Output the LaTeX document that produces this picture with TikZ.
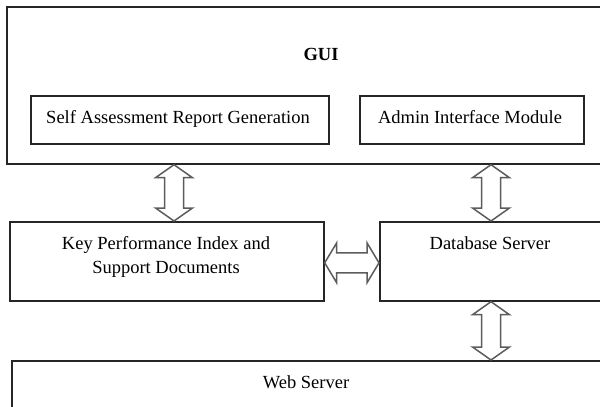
\documentclass[tikz,border=0pt]{standalone}
\usepackage{fontspec}
\setmainfont{Liberation Serif}
\usetikzlibrary{calc}
\definecolor{boxline}{HTML}{262626}
\definecolor{arrowline}{HTML}{5C5C5C}
\tikzset{
  box/.style={draw=boxline, line width=1.7pt, rectangle, inner sep=0pt, anchor=north west},
  txt/.style={font=\fontsize{18.5}{24}\selectfont, inner sep=0pt, anchor=base},
  twoway/.style={draw=arrowline, line width=1.5pt, fill=white, line join=miter},
}
% vertical two-headed block arrow between two points (top, bottom)
\newcommand\vtwoway[2]{%
  \draw[twoway] let \p1=#1, \p2=#2 in
    (\x1,\y1) -- (\x1+18.5pt,\y1-13pt) -- (\x1+9.5pt,\y1-13pt) -- (\x1+9.5pt,\y2+13pt)
    -- (\x1+18.5pt,\y2+13pt) -- (\x1,\y2) -- (\x1-18.5pt,\y2+13pt) -- (\x1-9.5pt,\y2+13pt)
    -- (\x1-9.5pt,\y1-13pt) -- (\x1-18.5pt,\y1-13pt) -- cycle;}
% horizontal two-headed block arrow between two points (left, right)
\newcommand\htwoway[2]{%
  \draw[twoway] let \p1=#1, \p2=#2 in
    (\x1,\y1) -- (\x1+12pt,\y1+20pt) -- (\x1+12pt,\y1+10pt) -- (\x2-12pt,\y1+10pt)
    -- (\x2-12pt,\y1+20pt) -- (\x2,\y1) -- (\x2-12pt,\y1-20pt) -- (\x2-12pt,\y1-10pt)
    -- (\x1+12pt,\y1-10pt) -- (\x1+12pt,\y1-20pt) -- cycle;}
\begin{document}
\begin{tikzpicture}[x=1pt,y=-1pt]
\useasboundingbox (0,0) rectangle (600,407);

% boxes
\node[box, minimum width=700pt, minimum height=157pt] (gui) at (6,6) {};
\node[box, minimum width=298pt, minimum height=48pt] (selfrep) at (30,95) {};
\node[box, minimum width=224pt, minimum height=48pt] (admin) at (359,95) {};
\node[box, minimum width=314pt, minimum height=79pt] (kpi) at (9,221) {};
\node[box, minimum width=300pt, minimum height=79pt] (db) at (379,221) {};
\node[box, minimum width=700pt, minimum height=100pt] (web) at (11,360) {};

% texts
\node[txt, font=\fontsize{18.5}{24}\selectfont\bfseries] (guitxt) at (321,60) {GUI};
\node[txt] (selftxt) at (178,123) {Self Assessment Report Generation};
\node[txt] (admintxt) at (470,123) {Admin Interface Module};
\node[txt] (kpitxta) at (166,249) {Key Performance Index and};
\node[txt] (kpitxtb) at (166,273) {Support Documents};
\node[txt] (dbtxt) at (490,249) {Database Server};
\node[txt] (webtxt) at (306,388) {Web Server};

% arrow ports
\coordinate (kpiport) at ([xshift=165pt]kpi.north west);
\coordinate (dbport) at ([xshift=112pt]db.north west);

% connectors
\vtwoway{(gui.south -| kpiport)}{(kpiport)}
\vtwoway{(gui.south -| dbport)}{(dbport)}
\vtwoway{(db.south -| dbport)}{(web.north -| dbport)}
\htwoway{([yshift=-1.5pt]kpi.east)}{([yshift=-1.5pt]db.west)}
\end{tikzpicture}
\end{document}
